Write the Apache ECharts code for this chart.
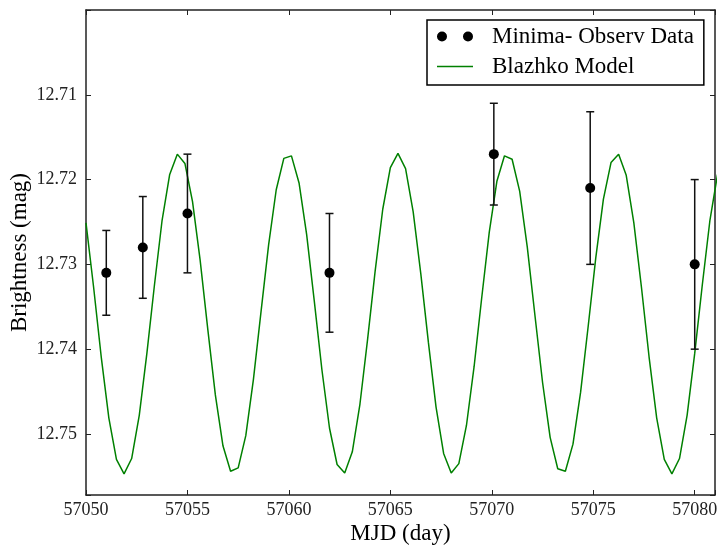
<!DOCTYPE html>
<html><head><meta charset="utf-8">
<script src="https://cdn.jsdelivr.net/npm/echarts@6/dist/echarts.min.js"></script>
<style>html,body{margin:0;padding:0;background:#fff}#c{width:718px;height:547px}</style>
</head><body><div id="c"></div>
<script>
// Observed minima (MJD, magnitude, error)
const obsMJD = [57051.0, 57052.8, 57055.0, 57062.0, 57070.1, 57074.85, 57080.0];
const obsMag = [12.731, 12.728, 12.724, 12.731, 12.717, 12.721, 12.730];
const obsErr = [0.005, 0.006, 0.007, 0.007, 0.006, 0.009, 0.010];

const modelMJD = [
  57050, 57050.375, 57050.75, 57051.125, 57051.5, 57051.875, 57052.25, 57052.625,
  57053, 57053.375, 57053.75, 57054.125, 57054.5, 57054.875, 57055.25, 57055.625,
  57056, 57056.375, 57056.75, 57057.125, 57057.5, 57057.875, 57058.25, 57058.625,
  57059, 57059.375, 57059.75, 57060.125, 57060.5, 57060.875, 57061.25, 57061.625,
  57062, 57062.375, 57062.75, 57063.125, 57063.5, 57063.875, 57064.25, 57064.625,
  57065, 57065.375, 57065.75, 57066.125, 57066.5, 57066.875, 57067.25, 57067.625,
  57068, 57068.375, 57068.75, 57069.125, 57069.5, 57069.875, 57070.25, 57070.625,
  57071, 57071.375, 57071.75, 57072.125, 57072.5, 57072.875, 57073.25, 57073.625,
  57074, 57074.375, 57074.75, 57075.125, 57075.5, 57075.875, 57076.25, 57076.625,
  57077, 57077.375, 57077.75, 57078.125, 57078.5, 57078.875, 57079.25, 57079.625,
  57080, 57080.375, 57080.75, 57081.125
];
const modelMag = [
  12.7251, 12.7327, 12.7409, 12.7481, 12.7530, 12.7547, 12.7529, 12.7478,
  12.7405, 12.7324, 12.7248, 12.7194, 12.7170, 12.7181, 12.7226, 12.7295,
  12.7376, 12.7454, 12.7514, 12.7544, 12.7540, 12.7502, 12.7436, 12.7356,
  12.7277, 12.7212, 12.7175, 12.7172, 12.7204, 12.7265, 12.7343, 12.7424,
  12.7493, 12.7536, 12.7546, 12.7521, 12.7465, 12.7389, 12.7308, 12.7235,
  12.7186, 12.7169, 12.7187, 12.7238, 12.7311, 12.7392, 12.7468, 12.7523,
  12.7546, 12.7535, 12.7490, 12.7421, 12.7340, 12.7262, 12.7202, 12.7172,
  12.7176, 12.7214, 12.7280, 12.7360, 12.7439, 12.7504, 12.7541, 12.7544,
  12.7512, 12.7451, 12.7373, 12.7292, 12.7223, 12.7180, 12.7170, 12.7195,
  12.7251, 12.7327, 12.7409, 12.7481, 12.7530, 12.7547, 12.7529, 12.7478,
  12.7405, 12.7324, 12.7248, 12.7194
];

const xMin = 57050, xMax = 57081, xStep = 5;
const yMin = 12.70, yMax = 12.7572, yStep = 0.01;

const FONT = 'Liberation Serif';
const AX = '#222';
const twoDots = 'path://M0,5a5,5 0 1,0 10,0a5,5 0 1,0 -10,0zM26,5a5,5 0 1,0 10,0a5,5 0 1,0 -10,0z';
const lineIcon = 'path://M0,0h36v1.6h-36z';

const chart = echarts.init(document.getElementById('c'), null, {renderer: 'canvas'});

const axisCommon = {
  axisLine: {show: true, onZero: false, lineStyle: {color: AX, width: 1.5}},
  axisTick: {show: true, inside: true, length: 5, lineStyle: {color: AX, width: 1}},
  splitLine: {show: false}
};

chart.setOption({
  animation: false,
  backgroundColor: '#fff',
  grid: {left: 86, right: 3, top: 10, bottom: 52, containLabel: false, outerBoundsMode: 'none'},
  xAxis: [
    Object.assign({
      type: 'value', position: 'bottom', min: xMin, max: xMax, interval: xStep,
      axisLabel: {fontFamily: FONT, fontSize: 18, color: AX, margin: 6,
        formatter: v => (Math.abs(v / xStep - Math.round(v / xStep)) < 1e-6 ? String(Math.round(v)) : '')},
      name: 'MJD (day)', nameLocation: 'middle', nameGap: 27, nameMoveOverlap: false,
      nameTextStyle: {fontFamily: FONT, fontSize: 23, color: '#000'}
    }, axisCommon),
    Object.assign({
      type: 'value', position: 'top', min: xMin, max: xMax, interval: xStep,
      axisLabel: {show: false}
    }, axisCommon)
  ],
  yAxis: [
    Object.assign({
      type: 'value', position: 'left', inverse: true, min: yMin, max: yMax, interval: yStep,
      axisLabel: {fontFamily: FONT, fontSize: 18, color: AX, margin: 9,
        formatter: v => ((v < 12.705 || v > 12.755) ? '' : v.toFixed(2))},
      name: 'Brightness (mag)', nameLocation: 'middle', nameGap: 55, nameMoveOverlap: false,
      nameTextStyle: {fontFamily: FONT, fontSize: 23, color: '#000'}
    }, axisCommon),
    Object.assign({
      type: 'value', position: 'right', inverse: true, min: yMin, max: yMax, interval: yStep,
      axisLabel: {show: false}
    }, axisCommon)
  ],
  legend: {
    orient: 'vertical', left: 427, top: 20,
    data: [
      {name: 'Minima- Observ Data', icon: twoDots, itemStyle: {color: '#000', opacity: 1}},
      {name: 'Blazhko Model', icon: lineIcon, itemStyle: {color: '#008000'}}
    ],
    symbolKeepAspect: true,
    itemWidth: 36, itemHeight: 10, itemGap: 7,
    padding: [5, 10, 7, 10],
    borderColor: '#000', borderWidth: 1.5, borderRadius: 0,
    backgroundColor: '#fff',
    selectedMode: false,
    textStyle: {fontFamily: FONT, fontSize: 23, color: '#000', padding: [0, 0, 0, 14]}
  },
  series: [
    {
      type: 'custom', name: 'errorbars', xAxisIndex: 0, yAxisIndex: 0,
      data: obsMJD.map((x, i) => [x, obsMag[i] - obsErr[i], obsMag[i] + obsErr[i]]),
      encode: {x: 0, y: [1, 2]},
      renderItem: function (params, api) {
        const x = api.value(0);
        const a = api.coord([x, api.value(1)]);
        const b = api.coord([x, api.value(2)]);
        const cap = 4;
        const st = {stroke: '#111', lineWidth: 1.5, fill: null};
        return {type: 'group', children: [
          {type: 'line', shape: {x1: a[0], y1: a[1], x2: b[0], y2: b[1]}, style: st},
          {type: 'line', shape: {x1: a[0] - cap, y1: a[1], x2: a[0] + cap, y2: a[1]}, style: st},
          {type: 'line', shape: {x1: b[0] - cap, y1: b[1], x2: b[0] + cap, y2: b[1]}, style: st}
        ]};
      },
      z: 3, silent: true
    },
    {
      type: 'line', name: 'Blazhko Model', xAxisIndex: 0, yAxisIndex: 0,
      data: modelMJD.map((x, i) => [x, modelMag[i]]),
      symbol: 'none', showSymbol: false, smooth: false, clip: true,
      lineStyle: {color: '#008000', width: 1.5},
      itemStyle: {color: '#008000'},
      z: 2
    },
    {
      type: 'scatter', name: 'Minima- Observ Data', xAxisIndex: 0, yAxisIndex: 0,
      data: obsMJD.map((x, i) => [x, obsMag[i]]),
      symbol: 'circle', symbolSize: 10,
      itemStyle: {color: '#000', opacity: 1},
      z: 4
    }
  ]
});
</script>
</body></html>
